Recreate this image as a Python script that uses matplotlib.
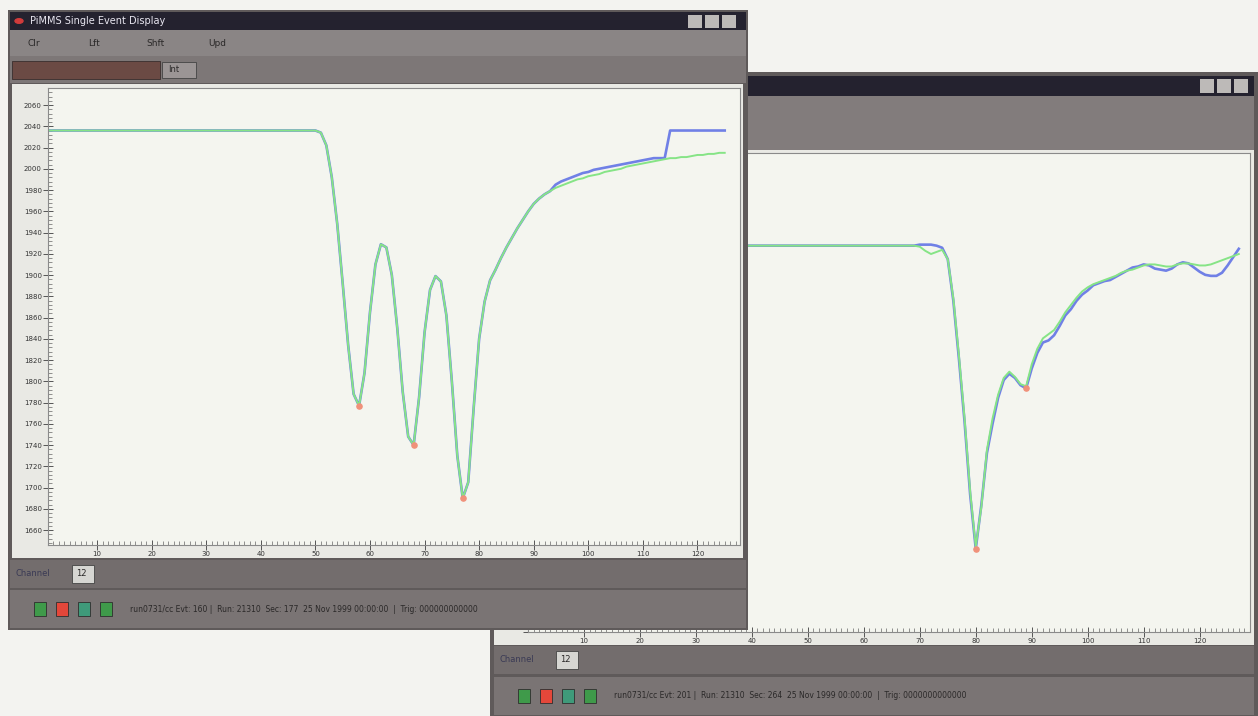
"""Two overlapping event-display windows, each with a channel trace (blue/green) and fitted minima."""

import matplotlib
matplotlib.use("Agg")
import matplotlib.pyplot as plt
from matplotlib.patches import Rectangle, Circle
from matplotlib.ticker import MultipleLocator

W, H = 1258, 716

# ---- left window trace (sample index vs ADC) ----
left_x = list(range(1, 126))
left_green = [2036] * 49 + [
    2036, 2034, 2022, 1992, 1948, 1892, 1834, 1788, 1777, 1808,   # 50-59
    1865, 1910, 1929, 1926, 1900, 1850, 1790, 1748, 1740, 1785,   # 60-69
    1846, 1886, 1899, 1894, 1862, 1800, 1730, 1690, 1705, 1775,   # 70-79
    1840, 1875, 1895, 1905, 1916, 1926, 1935, 1944, 1952, 1960,   # 80-89
    1967, 1972, 1976, 1979, 1982, 1984, 1986, 1988, 1990, 1991,   # 90-99
    1993, 1994, 1995, 1997, 1998, 1999, 2000, 2002, 2003, 2004,   # 100-109
    2005, 2006, 2007, 2008, 2009, 2010, 2010, 2011, 2011, 2012,   # 110-119
    2013, 2013, 2014, 2014, 2015, 2015,                           # 120-125
]
left_blue = left_green[:93] + [
    1985, 1988, 1990, 1992, 1994, 1996, 1997, 1999, 2000, 2001,   # 94-103
    2002, 2003, 2004, 2005, 2006, 2007, 2008, 2009, 2010, 2010,   # 104-113
    2010, 2036, 2036, 2036, 2036, 2036, 2036, 2036, 2036, 2036,   # 114-123
    2036, 2036,                                                   # 124-125
]
left_min_x = [58, 68, 77]
left_min_y = [1777, 1740, 1690]

# ---- right window trace ----
right_x = list(range(-5, 128))
right_green = [2011] * 75 + [
    2010, 2006, 2003, 2005, 2007, 1998, 1960, 1905, 1845, 1775,   # 70-79
    1722, 1760, 1815, 1845, 1868, 1884, 1890, 1885, 1878, 1876,   # 80-89
    1897, 1912, 1922, 1926, 1930, 1938, 1947, 1954, 1961, 1967,   # 90-99
    1971, 1974, 1976, 1978, 1980, 1982, 1985, 1987, 1988, 1990,   # 100-109
    1992, 1993, 1993, 1992, 1991, 1991, 1993, 1994, 1994, 1993,   # 110-119
    1992, 1992, 1993, 1995, 1997, 1999, 2001, 2003,               # 120-127
]
right_blue = [2011] * 75 + [
    2012, 2012, 2012, 2011, 2009, 1998, 1958, 1902, 1842, 1772,   # 70-79
    1720, 1762, 1812, 1840, 1865, 1882, 1888, 1884, 1877, 1874,   # 80-89
    1893, 1908, 1918, 1920, 1925, 1934, 1944, 1950, 1958, 1964,   # 90-99
    1968, 1973, 1975, 1977, 1978, 1981, 1984, 1987, 1990, 1991,   # 100-109
    1993, 1992, 1989, 1988, 1987, 1989, 1993, 1995, 1994, 1990,   # 110-119
    1986, 1983, 1982, 1982, 1985, 1992, 2000, 2008,               # 120-127
]
right_min_x = [80, 89]
right_min_y = [1720, 1874]

x_labels = ["10", "20", "30", "40", "50", "60", "70", "80", "90", "100", "110", "120"]

FRAME = "#5f5a5a"
TITLE = "#24222f"
MENU = "#8a8585"
BAR = "#736d6d"
PANEL = "#e9e9e4"
PLOT_BG = "#f4f5ef"
BLUE = "#7080e6"
GREEN = "#86e486"
MARK = "#f0917a"

fig = plt.figure(figsize=(W / 100, H / 100), dpi=100, facecolor="#f3f3f0")


def box(x0, y0, x1, y1, color, z, **kw):
    fig.patches.append(Rectangle((x0 / W, 1 - y1 / H), (x1 - x0) / W, (y1 - y0) / H,
                                 transform=fig.transFigure, facecolor=color,
                                 edgecolor=kw.pop("ec", "none"), lw=kw.pop("lw", 0.6),
                                 zorder=z, **kw))


def label(x, y, s, z, **kw):
    kw.setdefault("fontsize", 6.5)
    kw.setdefault("color", "#2a2828")
    fig.text(x / W, 1 - y / H, s, va="center", zorder=z, **kw)


def trace_axes(x0, y0, x1, y1, z):
    ax = fig.add_axes((x0 / W, 1 - y1 / H, (x1 - x0) / W, (y1 - y0) / H))
    ax.set_zorder(z)
    ax.set_facecolor(PLOT_BG)
    for s in ax.spines.values():
        s.set_color("#8a8a8a")
        s.set_linewidth(0.8)
    ax.xaxis.set_major_locator(MultipleLocator(10))
    ax.xaxis.set_minor_locator(MultipleLocator(1))
    ax.yaxis.set_major_locator(MultipleLocator(20))
    ax.yaxis.set_minor_locator(MultipleLocator(4))
    ax.tick_params(which="major", direction="inout", length=7, width=0.7,
                   colors="#555", labelsize=5, labelcolor="#333", pad=1)
    ax.tick_params(which="minor", direction="in", length=3, width=0.5, colors="#666")
    return ax


def status_row(x0, y_ch, y_st, x1, z, evt):
    box(x0, y_ch - 14, x1, y_ch + 14, BAR, z)
    label(x0 + 6, y_ch, "Channel", z + 1, color="#3a3a55", fontsize=6)
    box(x0 + 62, y_ch - 9, x0 + 84, y_ch + 9, "#d6d6d2", z + 1, ec="#444")
    label(x0 + 66, y_ch, "12", z + 2, fontsize=6)
    box(x0, y_st - 19, x1, y_st + 19, "#7a7474", z)
    for i, c in enumerate(["#3f9a4a", "#e4473a", "#3f9a7a", "#3f9a4a"]):
        box(x0 + 24 + 22 * i, y_st - 7, x0 + 36 + 22 * i, y_st + 7, c, z + 1, ec="#2e2e2e")
    label(x0 + 120, y_st, evt, z + 1, fontsize=5.5)


# ================= right (background) window =================
zr = 2
box(490, 72, 1258, 716, FRAME, zr)
box(494, 76, 1254, 96, TITLE, zr)
for i in range(3):
    box(1200 + 17 * i, 79, 1214 + 17 * i, 93, "#bdbab8", zr + 1)
box(494, 96, 1254, 150, "#827c7c", zr)
box(494, 150, 1254, 645, PANEL, zr)
axr = trace_axes(528, 153, 1250, 632, zr + 1)
axr.plot(right_x, right_blue, color=BLUE, lw=1.9, solid_joinstyle="round")
axr.plot(right_x, right_green, color=GREEN, lw=1.4, solid_joinstyle="round")
axr.scatter(right_min_x, right_min_y, s=14, color=MARK, zorder=5)
axr.set_xlim(0, 129)
axr.set_ylim(1640, 2100)
axr.set_xticks(range(10, 121, 10), x_labels)
axr.tick_params(axis="y", labelleft=False)
status_row(494, 660, 696, 1254, zr,
           "run0731/cc Evt: 201 |  Run: 21310  Sec: 264  25 Nov 1999 00:00:00  |  Trig: 0000000000000")

# ================= left (front) window =================
zl = 10
box(8, 10, 748, 630, FRAME, zl)
box(10, 12, 746, 30, TITLE, zl)
fig.patches.append(Circle((19 / W, 1 - 21 / H), 4 / W, transform=fig.transFigure,
                          color="#d23b3b", zorder=zl + 1))
label(30, 21, "PiMMS Single Event Display", zl + 1, color="#e8e6f0", fontsize=7)
for i in range(3):
    box(688 + 17 * i, 15, 702 + 17 * i, 28, "#bdbab8", zl + 1)
box(10, 30, 746, 56, MENU, zl)
for x, s in zip([28, 88, 146, 208], ["Clr", "Lft", "Shft", "Upd"]):
    label(x, 44, s, zl + 1, fontsize=6.5)
box(10, 56, 746, 83, "#7d7777", zl)
box(12, 61, 160, 79, "#6b4a44", zl + 1, ec="#3a2e2e")
box(162, 62, 196, 78, "#9b9595", zl + 1, ec="#444")
label(168, 70, "Int", zl + 2, fontsize=6)
box(12, 84, 743, 558, PANEL, zl)
axl = trace_axes(48, 88, 740, 545, zl + 1)
axl.plot(left_x, left_blue, color=BLUE, lw=1.9, solid_joinstyle="round")
axl.plot(left_x, left_green, color=GREEN, lw=1.4, solid_joinstyle="round")
axl.scatter(left_min_x, left_min_y, s=14, color=MARK, zorder=5)
axl.set_xlim(1, 127.8)
axl.set_ylim(1646, 2076)
axl.set_yticks(range(1660, 2061, 20))
axl.set_xticks(range(10, 121, 10), x_labels)
status_row(10, 574, 609, 746, zl,
           "run0731/cc Evt: 160 |  Run: 21310  Sec: 177  25 Nov 1999 00:00:00  |  Trig: 000000000000")

fig.savefig("out.png", dpi=100, facecolor=fig.get_facecolor())
